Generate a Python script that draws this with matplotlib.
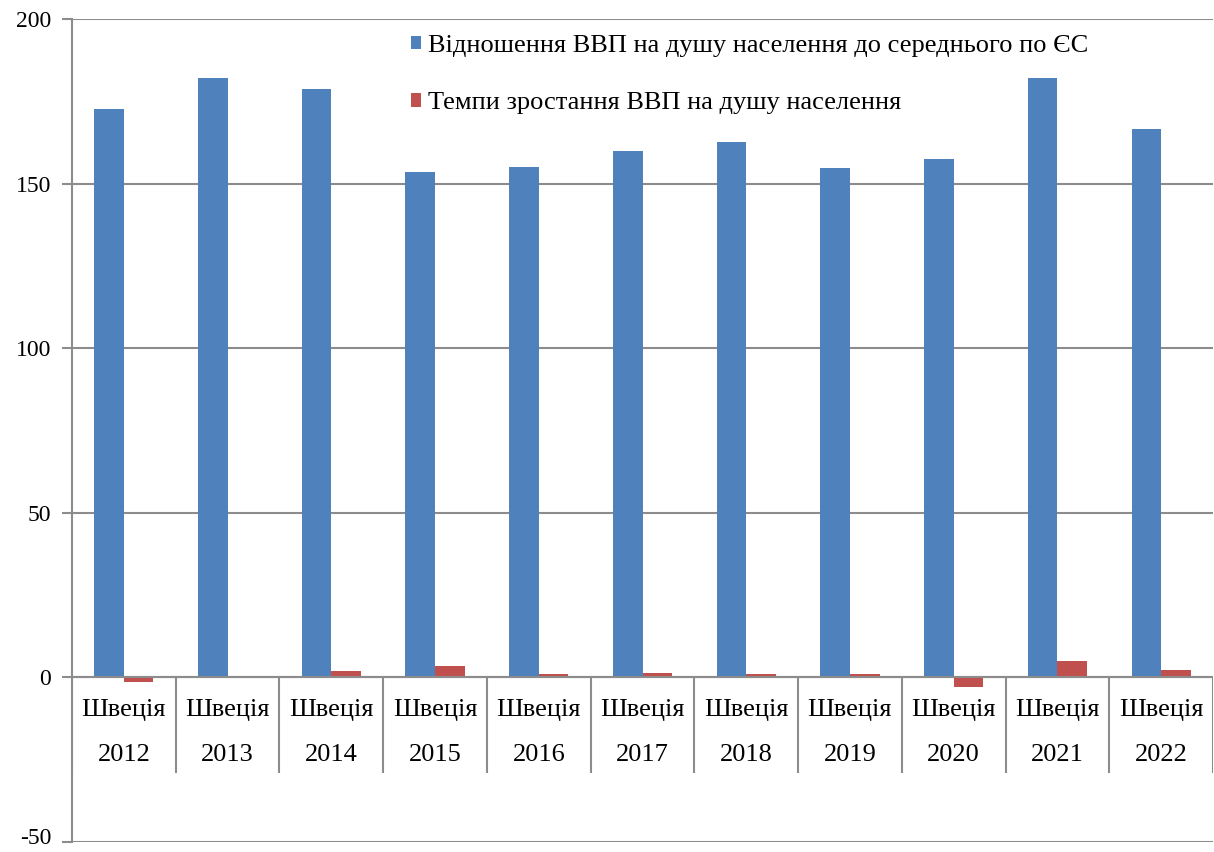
import numpy as np
import matplotlib.pyplot as plt
from matplotlib.transforms import ScaledTranslation

plt.rcParams['font.family'] = ['Liberation Serif', 'DejaVu Serif']
plt.rcParams['axes.unicode_minus'] = False

# Дані: Швеція, 2012-2022
country = 'Швеція'
years = ['2012', '2013', '2014', '2015', '2016', '2017',
         '2018', '2019', '2020', '2021', '2022']
ratio_eu = [172.8, 182.0, 178.6, 153.4, 154.9, 160.0,
            162.5, 154.6, 157.6, 182.0, 166.5]
growth = [-1.3, 0.1, 1.8, 3.6, 0.9, 1.2, 0.9, 1.0, -2.8, 4.9, 2.1]

label_ratio = 'Відношення ВВП на душу населення до середнього по ЄС'
label_growth = 'Темпи зростання ВВП на душу населення'

blue = '#4F81BD'
red = '#C0504D'
grey = '#8C8C8C'

fig = plt.figure(figsize=(12.14, 8.52), dpi=100)
ax = fig.add_axes([72 / 1214, 1 - 842 / 852, 1141 / 1214, 823 / 852])

x = np.arange(len(years))
w = 0.285
ax.bar(x - w / 2, ratio_eu, w, color=blue, label=label_ratio, zorder=3)
ax.bar(x + w / 2, growth, w, color=red, label=label_growth, zorder=3)

ax.set_xlim(-0.5, len(years) - 0.5)
ax.set_ylim(-50, 200)
ax.set_yticks([-50, 0, 50, 100, 150, 200])
ax.set_xticks([])
ax.grid(axis='y', color=grey, linewidth=1.5, zorder=0)
ax.axhline(0, color=grey, linewidth=1.5, zorder=4)

for s in ['top', 'right', 'bottom']:
    ax.spines[s].set_visible(False)
ax.spines['left'].set_color(grey)
ax.spines['left'].set_linewidth(1.5)
ax.tick_params(axis='y', length=7, width=1.5, color=grey, labelsize=17, pad=8)

# нижній підпис трохи вгору, щоб не обрізався краєм
fig.canvas.draw()
lbl = ax.get_yticklabels()[0]
lbl.set_transform(lbl.get_transform() + ScaledTranslation(0, 4 / 72, fig.dpi_scale_trans))

# двоярусні підписи категорій
for i, yr in enumerate(years):
    ax.text(i, -10, country, ha='center', va='center', fontsize=19)
    ax.text(i, -23.7, yr, ha='center', va='center', fontsize=19)
ax.vlines(np.arange(len(years) + 1) - 0.5, -29, 0, color=grey, linewidth=1.5, zorder=4)

ax.legend(loc='upper left', bbox_to_anchor=(0.283, 1.0), frameon=False,
          fontsize=19, handlelength=0.4, handleheight=0.4, handletextpad=0.25,
          labelspacing=1.35, borderaxespad=0.2)

fig.savefig('out.png', dpi=100)
